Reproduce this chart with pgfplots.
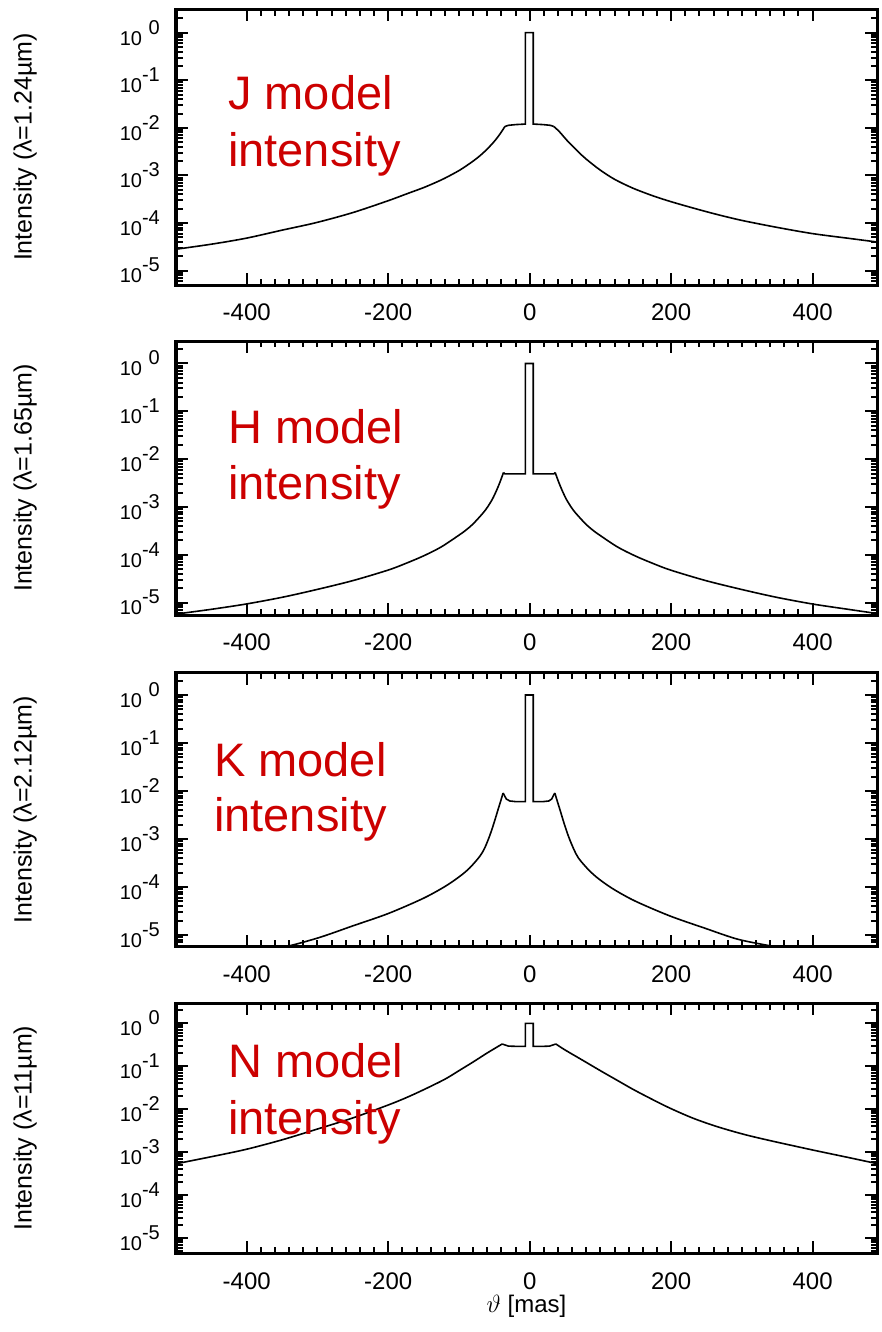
\documentclass[border=0pt]{standalone}
\usepackage{fontspec}
\setmainfont{Liberation Sans}
\usepackage{pgfplots}
\pgfplotsset{compat=1.18}
\definecolor{labred}{RGB}{204,0,0}
\newcommand\pw[1]{10\raisebox{11pt}{#1}}
\newcommand\bigred{\fontsize{47}{56}\selectfont\color{labred}}

\pgfplotsset{intpanel/.style={
  scale only axis, width=701pt, xmin=-500, xmax=491,
  axis line style={line width=3pt},
  axis background/.style={draw=black, line width=3pt},
  xtick={-400,-200,0,200,400}, xticklabels={-400,-200,0,200,400},
  minor x tick num=9,
  ytick={1e-5,1e-4,1e-3,1e-2,1e-1,1},
  yticklabels={\pw{-5},\pw{-4},\pw{-3},\pw{-2},\pw{-1},\pw{\phantom{-}0}},
  minor ytick={2e-6,3e-6,4e-6,5e-6,6e-6,7e-6,8e-6,9e-6,
    2e-5,3e-5,4e-5,5e-5,6e-5,7e-5,8e-5,9e-5,
    2e-4,3e-4,4e-4,5e-4,6e-4,7e-4,8e-4,9e-4,
    2e-3,3e-3,4e-3,5e-3,6e-3,7e-3,8e-3,9e-3,
    2e-2,3e-2,4e-2,5e-2,6e-2,7e-2,8e-2,9e-2,
    0.2,0.3,0.4,0.5,0.6,0.7,0.8,0.9,2,3},
  tick align=inside, tick pos=both,
  major tick length=12pt, minor tick length=6.5pt,
  tick style={black, line width=2pt},
  xticklabel style={font=\fontsize{24}{24}\selectfont, inner sep=0pt, yshift=-19pt},
  yticklabel style={font=\fontsize{20}{20}\selectfont, inner sep=0pt, xshift=-16pt},
  ylabel style={font=\fontsize{25}{25}\selectfont, at={(axis description cs:-0.2150,0.5)}, anchor=center},
  every axis plot/.append style={black, line width=1.6pt, no marks},
}}

\begin{document}
\begin{tikzpicture}
\path[use as bounding box] (0pt,0pt) rectangle (882pt,-1332pt);

% J band
\begin{semilogyaxis}[intpanel, at={(176pt,-9.3pt)}, anchor=north west, height=275.7pt,
  ymin=5e-6, ymax=3.09, ylabel={Intensity (λ=1.24µm)}]
\addplot[smooth] coordinates {(-500,2.82e-5) (-450,3.6e-5) (-401,4.8e-5) (-350,7.1e-5) (-302,1.02e-4) (-250,1.66e-4) (-200,2.95e-4) (-175,4.05e-4) (-151,5.48e-4) (-135,6.9e-4) (-120,8.75e-4) (-99,1.29e-3) (-80,2.0e-3) (-70,2.62e-3) (-61,3.47e-3) (-55,4.3e-3) (-50,5.2e-3) (-45,6.45e-3) (-40,8.2e-3) (-35,1.07e-2)};
\addplot[sharp plot] coordinates {(-35,1.07e-2) (-30,1.13e-2) (-20,1.17e-2) (-6,1.2e-2) (-6,1) (5,1) (5,1.2e-2) (19,1.17e-2) (29,1.13e-2) (34,1.07e-2)};
\addplot[smooth] coordinates {(34,1.07e-2) (40,8.9e-3) (45,7.4e-3) (52,5.6e-3) (61,4.1e-3) (70,3.0e-3) (80,2.2e-3) (99,1.32e-3) (120,8.3e-4) (146,5.4e-4) (175,3.7e-4) (202,2.75e-4) (240,1.9e-4) (270,1.45e-4) (302,1.12e-4) (350,8.1e-5) (400,6.0e-5) (450,4.8e-5) (491,4.0e-5)};
\end{semilogyaxis}

% H band
\begin{semilogyaxis}[intpanel, at={(176pt,-341pt)}, anchor=north west, height=274pt,
  ymin=5.5e-6, ymax=2.95, ylabel={Intensity (λ=1.65µm)}]
\addplot[smooth] coordinates {(-500,5.75e-6) (-450,7.24e-6) (-401,9.33e-6) (-350,1.29e-5) (-302,1.86e-5) (-250,2.88e-5) (-200,4.79e-5) (-175,6.61e-5) (-150,9.48e-5) (-125,1.46e-4) (-99,2.63e-4) (-90,3.29e-4) (-80,4.42e-4) (-66,7.45e-4) (-60,9.75e-4) (-53,1.43e-3) (-47,2.19e-3) (-42,3.31e-3) (-37,5.25e-3)};
\addplot[sharp plot] coordinates {(-37,5.25e-3) (-35,4.9e-3) (-6,4.9e-3) (-6,1) (5,1) (5,4.9e-3) (34,4.9e-3) (36,5.25e-3)};
\addplot[smooth] coordinates {(36,5.25e-3) (41,3.31e-3) (46,2.19e-3) (52,1.43e-3) (59,9.75e-4) (65,7.45e-4) (79,4.42e-4) (89,3.29e-4) (98,2.63e-4) (124,1.46e-4) (149,9.48e-5) (174,6.61e-5) (199,4.79e-5) (249,2.88e-5) (301,1.86e-5) (349,1.29e-5) (400,9.33e-6) (450,7.24e-6) (491,5.9e-6)};
\end{semilogyaxis}

% K band
\begin{semilogyaxis}[intpanel, at={(176pt,-672.7pt)}, anchor=north west, height=274pt,
  ymin=5.7e-6, ymax=2.92, ylabel={Intensity (λ=2.12µm)}]
\addplot[smooth] coordinates {(-500,2.1e-6) (-450,2.8e-6) (-400,4.0e-6) (-344,5.75e-6) (-297,8.9e-6) (-250,1.55e-5) (-200,2.8e-5) (-151,5.75e-5) (-120,1.02e-4) (-99,1.66e-4) (-85,2.48e-4) (-71,4.27e-4) (-64,6.3e-4) (-57,1.12e-3) (-51,2.04e-3) (-45,3.98e-3) (-41,6.17e-3) (-37.6,9.1e-3)};
\addplot[sharp plot] coordinates {(-37.6,9.1e-3) (-33,6.8e-3) (-28,6.2e-3) (-19,6.0e-3) (-6,6.0e-3) (-6,1) (5,1) (5,6.0e-3) (18,6.0e-3) (27,6.2e-3) (31,6.8e-3) (35.5,9.1e-3)};
\addplot[smooth] coordinates {(35.5,9.1e-3) (39,6.17e-3) (43,3.98e-3) (49,2.04e-3) (55,1.12e-3) (62,6.3e-4) (69,4.0e-4) (83,2.3e-4) (97,1.5e-4) (118,9.1e-5) (149,5.1e-5) (198,2.5e-5) (248,1.38e-5) (295,8.1e-6) (349,5.6e-6) (400,3.9e-6) (450,2.8e-6) (491,2.2e-6)};
\end{semilogyaxis}

% N band
\begin{semilogyaxis}[intpanel, at={(176pt,-1003.3pt)}, anchor=north west, height=250pt,
  ymin=4.47e-6, ymax=2.92, ylabel={Intensity (λ=11µm)},
  xlabel={$\vartheta$ [mas]},
  xlabel style={font=\fontsize{24}{24}\selectfont, at={(axis description cs:0.5,0)}, anchor=center, yshift=-53.4pt}]
\addplot[smooth] coordinates {(-500,5.4e-4) (-450,7.9e-4) (-401,1.17e-3) (-350,1.95e-3) (-302,3.4e-3) (-250,6.3e-3) (-200,1.26e-2) (-175,1.85e-2) (-151,2.8e-2) (-120,5.0e-2) (-99,8.1e-2) (-80,0.126) (-61,0.2) (-50,0.257) (-39,0.33)};
\addplot[sharp plot] coordinates {(-39,0.33) (-30,0.295) (-15,0.29) (-6,0.29) (-6,1) (5,1) (5,0.29) (16,0.29) (28,0.295) (37,0.33)};
\addplot[smooth] coordinates {(37,0.33) (50,0.24) (75,0.138) (100,0.079) (123,0.048) (150,0.0269) (193,0.0117) (230,6.3e-3) (264,4.0e-3) (300,2.69e-3) (335,1.95e-3) (398,1.15e-3) (450,7.6e-4) (492,5.4e-4)};
\end{semilogyaxis}

% band captions
\node[anchor=base west, inner sep=0pt, font=\bigred] at (228pt,-110pt) {J model};
\node[anchor=base west, inner sep=0pt, font=\bigred] at (228pt,-166.7pt) {intensity};
\node[anchor=base west, inner sep=0pt, font=\bigred] at (228pt,-443.3pt) {H model};
\node[anchor=base west, inner sep=0pt, font=\bigred] at (228pt,-499pt) {intensity};
\node[anchor=base west, inner sep=0pt, font=\bigred] at (214pt,-776.7pt) {K model};
\node[anchor=base west, inner sep=0pt, font=\bigred] at (214pt,-831.7pt) {intensity};
\node[anchor=base west, inner sep=0pt, font=\bigred] at (228pt,-1077.7pt) {N model};
\node[anchor=base west, inner sep=0pt, font=\bigred] at (228pt,-1134.5pt) {intensity};
\end{tikzpicture}
\end{document}
